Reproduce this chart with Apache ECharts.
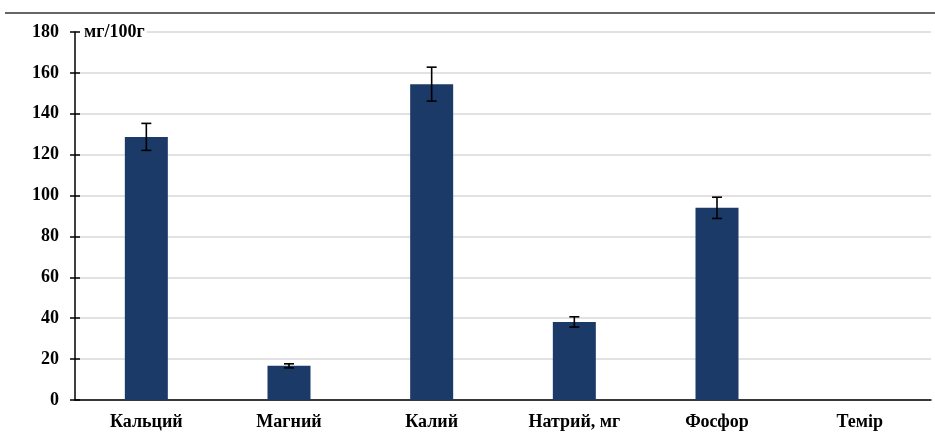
<!DOCTYPE html>
<html>
<head>
<meta charset="utf-8">
<script src="https://cdn.jsdelivr.net/npm/echarts@6/dist/echarts.min.js"></script>
<style>
    html, body { margin: 0; padding: 0; background: #fff; }
    #chart { width: 935px; height: 438px; }
</style>
</head>
<body>
<div id="chart"></div>
<script>
    // data
    var categories = ['Кальций', 'Магний', 'Калий', 'Натрий, мг', 'Фосфор', 'Темір'];
    var values = [128.7, 16.7, 154.5, 38.2, 94, 0];
    var errors = [6.6, 1, 8.3, 2.5, 5.2, 0];
    var yTicks = [0, 20, 40, 60, 80, 100, 120, 140, 160, 180];

    var font = '"Liberation Serif", "Times New Roman", serif';
    var chart = echarts.init(document.getElementById('chart'));

    var errData = values.map(function (v, i) { return [i, v - errors[i], v + errors[i]]; });

    function renderErr(params, api) {
        if (api.value(2) - api.value(1) === 0) return;
        var lo = api.coord([api.value(0), api.value(1)]);
        var hi = api.coord([api.value(0), api.value(2)]);
        var w = 5;
        var st = { stroke: '#000', lineWidth: 1.6 };
        return {
            type: 'group',
            children: [
                { type: 'line', shape: { x1: lo[0], y1: lo[1], x2: hi[0], y2: hi[1] }, style: st },
                { type: 'line', shape: { x1: lo[0] - w, y1: lo[1], x2: lo[0] + w, y2: lo[1] }, style: st },
                { type: 'line', shape: { x1: hi[0] - w, y1: hi[1], x2: hi[0] + w, y2: hi[1] }, style: st }
            ]
        };
    }

    chart.setOption({
        animation: false,
        grid: { left: 75, right: 4, top: 32, bottom: 38 },
        graphic: [{
            type: 'line',
            shape: { x1: 5, y1: 13, x2: 935, y2: 13 },
            style: { stroke: '#666', lineWidth: 2 }
        }],
        xAxis: [{
            type: 'category',
            data: categories,
            axisLine: { lineStyle: { color: '#000', width: 1.5 } },
            axisTick: { alignWithLabel: true, length: 4, lineStyle: { color: '#000', width: 1.5 } },
            axisLabel: { color: '#000', fontFamily: font, fontWeight: 'bold', fontSize: 18, margin: 13 }
        }, {
            type: 'category',
            data: categories,
            position: 'bottom',
            axisLine: { show: false },
            axisTick: { inside: true, alignWithLabel: true, length: 4, lineStyle: { color: '#000', width: 1.5 } },
            axisLabel: { show: false }
        }],
        yAxis: [{
            type: 'value',
            min: 0,
            max: 180,
            interval: 20,
            name: 'мг/100г',
            nameLocation: 'end',
            nameGap: 0,
            nameTextStyle: {
                color: '#000', fontFamily: font, fontWeight: 'bold', fontSize: 18,
                align: 'left', verticalAlign: 'middle', backgroundColor: '#fff', padding: [0, 2, 0, 9]
            },
            axisLine: { show: true, lineStyle: { color: '#000', width: 1.5 } },
            axisTick: { show: true, length: 5, lineStyle: { color: '#000', width: 1.5 } },
            axisLabel: {
                color: '#000', fontFamily: font, fontWeight: 'bold', fontSize: 18, margin: 16,
                formatter: function (v) { return yTicks.indexOf(v) >= 0 ? String(v) : ''; }
            },
            splitLine: { lineStyle: { color: '#d9d9d9', width: 1.5 } }
        }, {
            type: 'value',
            min: 0,
            max: 180,
            interval: 20,
            position: 'left',
            axisLine: { show: false },
            axisTick: { show: true, inside: true, length: 5, lineStyle: { color: '#000', width: 1.5 } },
            axisLabel: { show: false },
            splitLine: { show: false }
        }],
        series: [{
            type: 'bar',
            data: values,
            barWidth: 43,
            itemStyle: { color: '#1b3a68' },
            z: 2
        }, {
            type: 'custom',
            data: errData,
            renderItem: renderErr,
            encode: { x: 0, y: [1, 2] },
            z: 5
        }]
    });
</script>
</body>
</html>
